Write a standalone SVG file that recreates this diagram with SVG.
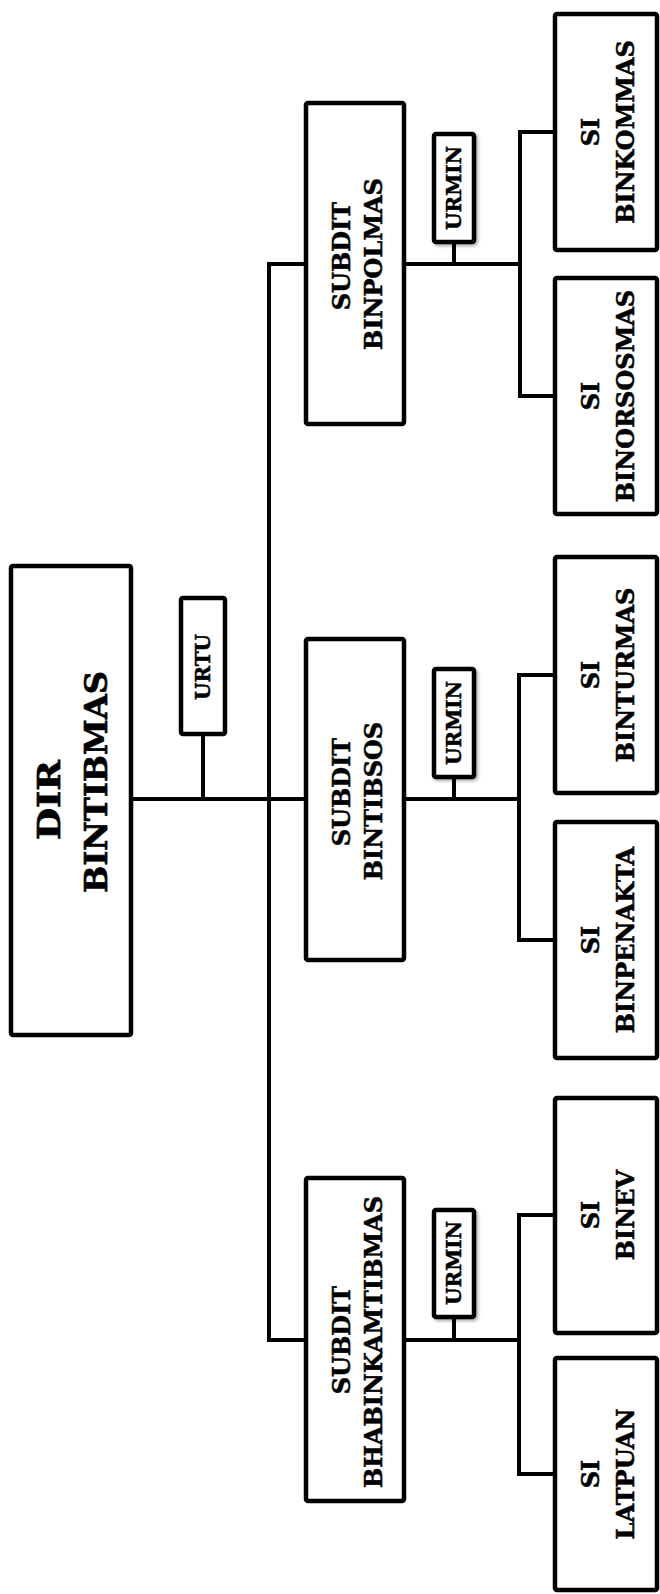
<svg xmlns="http://www.w3.org/2000/svg" width="660" height="1594" viewBox="0 0 660 1594">
  <style>
    .box { fill: #ffffff; stroke: #000000; stroke-width: 4.5; stroke-linejoin: round; }
    .conn { fill: none; stroke: #000000; stroke-width: 4; stroke-linecap: square; stroke-linejoin: miter; }
    .t { font-family: "DejaVu Serif", "Liberation Serif", serif; font-weight: bold; text-anchor: middle; fill: #000000; stroke: #000000; stroke-width: 0.5; }
    .big { font-size: 32px; stroke-width: 0.7; }
    .mid { font-size: 24px; }
    .sm { font-size: 20px; }
  </style>
  <defs>
    <filter id="shadow" x="-30%" y="-30%" width="160%" height="160%">
      <feDropShadow dx="2" dy="2" stdDeviation="1.5" flood-color="#000000" flood-opacity="0.3"/>
    </filter>
  </defs>
  <rect width="660" height="1594" fill="#ffffff"/>

  <g id="connectors">
    <path class="conn" d="M131,799 H306"/>
    <path class="conn" d="M203,734 V799"/>
    <path class="conn" d="M306,264 H269 V1340 H306"/>
    <path class="conn" d="M404,264 H520"/>
    <path class="conn" d="M454,242 V264"/>
    <path class="conn" d="M555,132 H520 V396 H555"/>
    <path class="conn" d="M404,799 H519"/>
    <path class="conn" d="M454,777 V799"/>
    <path class="conn" d="M555,675 H519 V940 H555"/>
    <path class="conn" d="M404,1340 H519"/>
    <path class="conn" d="M454,1317 V1340"/>
    <path class="conn" d="M555,1215 H519 V1474 H555"/>
  </g>

  <g id="dir-bintibmas">
    <rect class="box" x="11" y="566" width="120" height="469" rx="2"/>
    <text class="t big" transform="translate(60,800) rotate(-90)" textLength="80" lengthAdjust="spacingAndGlyphs">DIR</text>
    <text class="t big" transform="translate(107,782) rotate(-90)" textLength="222" lengthAdjust="spacingAndGlyphs">BINTIBMAS</text>
  </g>

  <g id="urtu">
    <rect class="box" x="181" y="598" width="44" height="136" rx="2"/>
    <text class="t sm" transform="translate(210,667) rotate(-90)">URTU</text>
  </g>

  <g id="subdit-binpolmas">
    <rect class="box" x="306" y="103" width="98" height="321" rx="2"/>
    <text class="t mid" transform="translate(350,256) rotate(-90)">SUBDIT</text>
    <text class="t mid" transform="translate(382,264) rotate(-90)">BINPOLMAS</text>
  </g>
  <g id="urmin-binpolmas">
    <rect class="box" x="434" y="134" width="40" height="108" rx="2" filter="url(#shadow)"/>
    <text class="t sm" transform="translate(461,188) rotate(-90)">URMIN</text>
  </g>
  <g id="si-binkommas">
    <rect class="box" x="555" y="14" width="102" height="236" rx="2"/>
    <text class="t mid" transform="translate(599,132) rotate(-90)">SI</text>
    <text class="t mid" transform="translate(634,132) rotate(-90)">BINKOMMAS</text>
  </g>
  <g id="si-binorsosmas">
    <rect class="box" x="555" y="278" width="102" height="236" rx="2"/>
    <text class="t mid" transform="translate(599,396) rotate(-90)">SI</text>
    <text class="t mid" transform="translate(634,396) rotate(-90)">BINORSOSMAS</text>
  </g>

  <g id="subdit-bintibsos">
    <rect class="box" x="306" y="639" width="98" height="321" rx="2"/>
    <text class="t mid" transform="translate(350,792) rotate(-90)">SUBDIT</text>
    <text class="t mid" transform="translate(382,801) rotate(-90)">BINTIBSOS</text>
  </g>
  <g id="urmin-bintibsos">
    <rect class="box" x="434" y="669" width="40" height="108" rx="2" filter="url(#shadow)"/>
    <text class="t sm" transform="translate(461,723) rotate(-90)">URMIN</text>
  </g>
  <g id="si-binturmas">
    <rect class="box" x="555" y="557" width="102" height="236" rx="2"/>
    <text class="t mid" transform="translate(599,675) rotate(-90)">SI</text>
    <text class="t mid" transform="translate(634,675) rotate(-90)">BINTURMAS</text>
  </g>
  <g id="si-binpenakta">
    <rect class="box" x="555" y="822" width="102" height="236" rx="2"/>
    <text class="t mid" transform="translate(599,940) rotate(-90)">SI</text>
    <text class="t mid" transform="translate(634,940) rotate(-90)">BINPENAKTA</text>
  </g>

  <g id="subdit-bhabinkamtibmas">
    <rect class="box" x="306" y="1178" width="98" height="323" rx="2"/>
    <text class="t mid" transform="translate(350,1340) rotate(-90)">SUBDIT</text>
    <text class="t mid" transform="translate(382,1342) rotate(-90)">BHABINKAMTIBMAS</text>
  </g>
  <g id="urmin-bhabinkamtibmas">
    <rect class="box" x="434" y="1210" width="40" height="107" rx="2" filter="url(#shadow)"/>
    <text class="t sm" transform="translate(461,1263) rotate(-90)">URMIN</text>
  </g>
  <g id="si-binev">
    <rect class="box" x="555" y="1098" width="102" height="235" rx="2"/>
    <text class="t mid" transform="translate(599,1215) rotate(-90)">SI</text>
    <text class="t mid" transform="translate(634,1215) rotate(-90)">BINEV</text>
  </g>
  <g id="si-latpuan">
    <rect class="box" x="555" y="1358" width="102" height="232" rx="2"/>
    <text class="t mid" transform="translate(599,1474) rotate(-90)">SI</text>
    <text class="t mid" transform="translate(634,1474) rotate(-90)">LATPUAN</text>
  </g>
</svg>
